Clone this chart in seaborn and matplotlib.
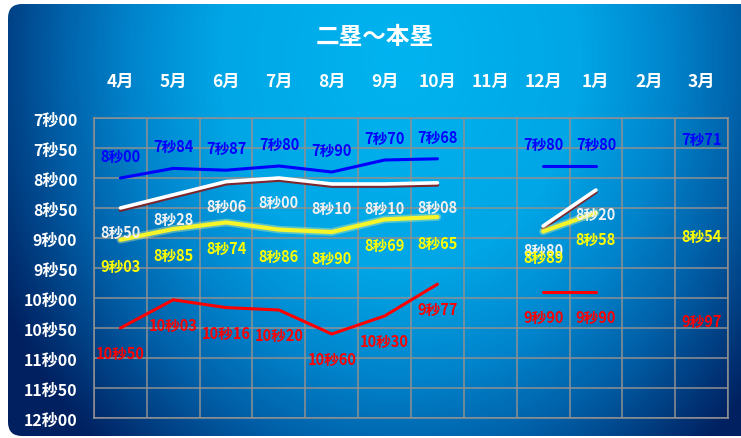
import numpy as np
import pandas as pd
import matplotlib
matplotlib.use('Agg')
import matplotlib.pyplot as plt
import matplotlib.patheffects as pe
from matplotlib.colors import LinearSegmentedColormap
from matplotlib.patches import FancyBboxPatch
import seaborn as sns

months = ['4月', '5月', '6月', '7月', '8月', '9月', '10月', '11月', '12月', '1月', '2月', '3月']
nan = np.nan
blue_vals = [8.00, 7.84, 7.87, 7.80, 7.90, 7.70, 7.68, nan, 7.80, 7.80, nan, 7.71]
white_vals = [8.50, 8.28, 8.06, 8.00, 8.10, 8.10, 8.08, nan, 8.80, 8.20, nan, nan]
yellow_vals = [9.03, 8.85, 8.74, 8.86, 8.90, 8.69, 8.65, nan, 8.89, 8.58, nan, 8.54]
red_vals = [10.50, 10.03, 10.16, 10.20, 10.60, 10.30, 9.77, nan, 9.90, 9.90, nan, 9.97]
y_ticks = [7.0, 7.5, 8.0, 8.5, 9.0, 9.5, 10.0, 10.5, 11.0, 11.5, 12.0]
title = '二塁～本塁'


def fmt(v):
    s = int(v)
    c = int(round((v - s) * 100))
    return f'{s}秒{c:02d}'


def segments(vals, name):
    rows = []
    seg = 0
    for i, v in enumerate(vals):
        if np.isnan(v):
            seg += 1
            continue
        rows.append({'x': i, 't': v, 'series': name, 'seg': seg})
    return pd.DataFrame(rows)


sns.set_style('white')
plt.rcParams['font.family'] = ['Noto Sans CJK JP', 'DejaVu Sans']

W, H = 741, 439
fig = plt.figure(figsize=(W / 100, H / 100), dpi=100)
fig.patch.set_facecolor('white')

# background: rounded panel with a blue path-like gradient
bg = fig.add_axes([0, 0, 1, 1], zorder=0)
bg.set_xlim(0, W)
bg.set_ylim(H, 0)
bg.axis('off')
yy, xx = np.mgrid[0:H, 0:W]
dist = np.sqrt(((xx - 400) / 360) ** 2 + ((yy - 60) / 420) ** 2)
cmap = LinearSegmentedColormap.from_list('bgblue', [
    (0.0, '#00b4f0'), (0.4, '#00a6e6'), (0.6, '#0084cc'),
    (0.76, '#0060a8'), (1.0, '#002060')])
img = bg.imshow(dist, cmap=cmap, vmin=0, vmax=1.25, extent=(0, W, H, 0), aspect='auto')
panel = FancyBboxPatch((8, 5), 760, 432, boxstyle='round,pad=0,rounding_size=14',
                       transform=bg.transData, facecolor='none', edgecolor='none')
bg.add_patch(panel)
img.set_clip_path(panel)

ax = fig.add_axes([94 / W, 20 / H, 634 / W, 300 / H], zorder=1)
ax.patch.set_alpha(0)

styles = {
    'blue': dict(vals=blue_vals, color='#0000ff', lw=2.2, off=22, tcol='#0000ff'),
    'white': dict(vals=white_vals, color='#ffffff', lw=2.6, off=-24, tcol='#f2f2f2'),
    'yellow': dict(vals=yellow_vals, color='#f5f52a', lw=3.0, off=-26, tcol='#ffff00'),
    'red': dict(vals=red_vals, color='#ff0000', lw=2.2, off=-25, tcol='#ff0000'),
}

for name, st in styles.items():
    df = segments(st['vals'], name)
    if name == 'white':
        effects = [pe.SimpleLineShadow(offset=(0, -1.5), shadow_color='#8b1a1a', alpha=0.9), pe.Normal()]
    elif name == 'yellow':
        effects = [pe.Stroke(linewidth=5.5, foreground='#ffff99', alpha=0.35), pe.Normal()]
    else:
        effects = None
    sns.lineplot(data=df, x='x', y='t', units='seg', estimator=None, color=st['color'],
                 lw=st['lw'], ax=ax, legend=False, path_effects=effects, zorder=3)
    for i, v in enumerate(st['vals']):
        if np.isnan(v):
            continue
        ax.annotate(fmt(v), (i, v), xytext=(0, st['off']), textcoords='offset pixels',
                    ha='center', va='center', fontsize=10.5, fontweight='bold',
                    color=st['tcol'], zorder=4)

ax.set_xlim(-0.5, 11.5)
ax.set_ylim(12, 7)
ax.set_xticks(range(len(months)))
ax.set_xticklabels(months)
ax.set_xticks(np.arange(-0.5, 12, 1), minor=True)
ax.set_yticks(y_ticks)
ax.set_yticklabels([fmt(v) for v in y_ticks])
ax.xaxis.tick_top()
ax.tick_params(axis='x', which='both', length=0, pad=20, labelsize=12.5, labelcolor='white')
ax.tick_params(axis='y', which='both', length=0, pad=12, labelsize=11.5, labelcolor='white')
for lab in ax.get_xticklabels() + ax.get_yticklabels():
    lab.set_fontweight('bold')
ax.set_xlabel('')
ax.set_ylabel('')
ax.grid(which='minor', axis='x', color='#909090', lw=1.3, alpha=0.85)
ax.grid(which='major', axis='y', color='#909090', lw=1.3, alpha=0.85)
ax.grid(which='major', axis='x', visible=False)
for sp in ax.spines.values():
    sp.set_visible(True)
    sp.set_color('#909090')
    sp.set_linewidth(1.3)
    sp.set_alpha(0.85)

fig.text(375 / W, 1 - 37 / H, title, ha='center', va='center', fontsize=17,
         fontweight='bold', color='white')

fig.savefig('out.png', dpi=100)
